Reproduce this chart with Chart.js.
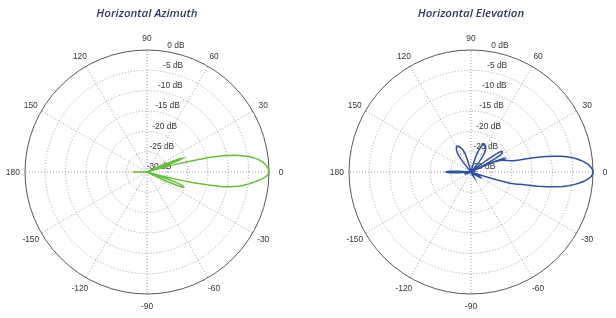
<!DOCTYPE html>
<html>
<head>
<meta charset="utf-8">
<script src="https://cdn.jsdelivr.net/npm/chart.js@4.4.1/dist/chart.umd.min.js"></script>
<style>
  html, body { margin: 0; padding: 0; background: #ffffff; }
  #wrap { position: relative; width: 616px; height: 318px; overflow: hidden; }
  canvas { position: absolute; top: 0; }
</style>
</head>
<body>
<div id="wrap">
  <canvas id="az" width="308" height="318" style="left:0px"></canvas>
  <canvas id="el" width="308" height="318" style="left:308px"></canvas>
</div>
<script>
// ---- titles ----
const titles = ['Horizontal Azimuth', 'Horizontal Elevation'];

// ---- angular tick labels (degrees, counter-clockwise from the right) ----
const angleTicks = [0, 30, 60, 90, 120, 150, 180, -150, -120, -90, -60, -30];

// ---- radial tick labels (dB) ----
const dbTicks = [0, -5, -10, -15, -20, -25, -30];

// ---- pattern values in dB, one per degree, angle 0..359 (counter-clockwise) ----
const azimuthDb = [
  0, -0.1, -0.3, -0.6, -1.0, -1.5, -2.2, -3.0, -4.0, -5.3,          // 0-9
  -6.8, -8.5, -10.8, -14.0, -18.5, -23, -27.5, -30, -28, -24.5,      // 10-19
  -21.8, -20.6, -21.2, -23.5, -27, -30, -30, -30, -30, -30,          // 20-29
  -30, -30, -30, -30, -30, -30, -30, -30, -30, -30,                  // 30-39
  -30, -30, -30, -30, -30, -30, -30, -30, -30, -30,                  // 40-49
  -30, -30, -30, -30, -30, -30, -30, -30, -30, -30,                  // 50-59
  -30, -30, -30, -30, -30, -30, -30, -30, -30, -30,                  // 60-69
  -30, -30, -30, -30, -30, -30, -30, -30, -30, -30,                  // 70-79
  -30, -30, -30, -30, -30, -30, -30, -30, -30, -30,                  // 80-89
  -30, -30, -30, -30, -30, -30, -30, -30, -30, -30,                  // 90-99
  -30, -30, -30, -30, -30, -30, -30, -30, -30, -30,                  // 100-109
  -30, -30, -30, -30, -30, -30, -30, -30, -30, -30,                  // 110-119
  -30, -30, -30, -30, -30, -30, -30, -30, -30, -30,                  // 120-129
  -30, -30, -30, -30, -30, -30, -30, -30, -30, -30,                  // 130-139
  -30, -30, -30, -30, -30, -30, -30, -30, -30, -30,                  // 140-149
  -30, -30, -30, -30, -30, -30, -30, -30, -30, -30,                  // 150-159
  -30, -30, -30, -30, -30, -30, -30, -30, -30, -30,                  // 160-169
  -30, -30, -30, -30, -30, -30, -30, -30, -30, -28.5,                // 170-179
  -26.5, -28.5, -30, -30, -30, -30, -30, -30, -30, -30,              // 180-189
  -30, -30, -30, -30, -30, -30, -30, -30, -30, -30,                  // 190-199
  -30, -30, -30, -30, -30, -30, -30, -30, -30, -30,                  // 200-209
  -30, -30, -30, -30, -30, -30, -30, -30, -30, -30,                  // 210-219
  -30, -30, -30, -30, -30, -30, -30, -30, -30, -30,                  // 220-229
  -30, -30, -30, -30, -30, -30, -30, -30, -30, -30,                  // 230-239
  -30, -30, -30, -30, -30, -30, -30, -30, -30, -30,                  // 240-249
  -30, -30, -30, -30, -30, -30, -30, -30, -30, -30,                  // 250-259
  -30, -30, -30, -30, -30, -30, -30, -30, -30, -30,                  // 260-269
  -30, -30, -30, -30, -30, -30, -30, -30, -30, -30,                  // 270-279
  -30, -30, -30, -30, -30, -30, -30, -30, -30, -30,                  // 280-289
  -30, -30, -30, -30, -30, -30, -30, -30, -30, -30,                  // 290-299
  -30, -30, -30, -30, -30, -30, -30, -30, -30, -30,                  // 300-309
  -30, -30, -30, -30, -30, -30, -30, -30, -30, -30,                  // 310-319
  -30, -30, -30, -30, -30, -30, -30, -30, -30, -30,                  // 320-329
  -30, -30, -30, -30, -28, -24.5, -21.5, -20.3, -20.3, -20.8,        // 330-339
  -22, -24.5, -28, -30, -30, -26.5, -22.5, -18.3, -14.5, -11.0,      // 340-349
  -9.0, -7.5, -6.2, -5.1, -4.2, -3.2, -2.2, -1.3, -0.6, -0.2         // 350-359
];

const elevationDb = [
  0, -0.1, -0.4, -0.8, -1.3, -2.0, -2.8, -3.7, -4.8, -6.1,           // 0-9
  -7.7, -9.6, -12, -14.8, -17.8, -19.2, -19.9, -20.4, -20.9, -21.3,  // 10-19
  -21.6, -21.2, -22.6, -21.9, -23.8, -27, -30, -28, -25, -23,        // 20-29
  -21.8, -21.2, -20.9, -20.8, -20.9, -21.5, -22.8, -25, -28, -30,    // 30-39
  -30, -30, -30, -30, -30, -30, -30, -30, -30, -29,                  // 40-49
  -27.8, -26.8, -26, -25.3, -24.7, -24.2, -23.8, -23.5, -23.2, -23.0,// 50-59
  -22.8, -22.7, -22.6, -22.5, -22.5, -22.5, -22.6, -22.8, -23.1, -23.5,// 60-69
  -24.0, -24.7, -25.5, -26.5, -27.8, -29.2, -30, -30, -30, -30,      // 70-79
  -30, -30, -30, -30, -30, -30, -30, -30, -30, -30,                  // 80-89
  -30, -30, -30, -30, -30, -30, -30, -30, -30, -30,                  // 90-99
  -30, -30, -30, -30, -30, -29, -27.5, -26, -25.2, -24.7,            // 100-109
  -24.3, -24.0, -23.8, -23.5, -23.3, -23.1, -23.0, -22.9, -22.8, -22.8,// 110-119
  -22.9, -23.0, -23.2, -23.4, -23.7, -24.0, -24.5, -25.2, -26.2, -27.5,// 120-129
  -29, -30, -30, -30, -30, -30, -30, -30, -30, -30,                  // 130-139
  -30, -30, -30, -30, -30, -30, -30, -30, -30, -30,                  // 140-149
  -30, -30, -30, -30, -30, -30, -30, -30, -30, -30,                  // 150-159
  -30, -30, -30, -30, -30, -30, -30, -30, -30, -30,                  // 160-169
  -30, -30, -30, -30, -30, -30, -30, -27, -25, -24.3,                // 170-179
  -24, -24.3, -25, -27, -30, -30, -30, -30, -30, -30,                // 180-189
  -30, -30, -30, -30, -30, -29.5, -29, -28.7, -28.5, -28.5,          // 190-199
  -28.7, -29, -29.5, -30, -30, -30, -30, -30, -30, -30,              // 200-209
  -30, -30, -30, -30, -30, -30, -30, -30, -30, -30,                  // 210-219
  -30, -30, -30, -30, -30, -30, -30, -30, -30, -30,                  // 220-229
  -30, -30, -30, -30, -30, -30, -30, -30, -30, -30,                  // 230-239
  -30, -30, -30, -30, -30, -30, -30, -30, -30, -30,                  // 240-249
  -30, -30, -30, -30, -30, -30, -30, -30, -30, -30,                  // 250-259
  -30, -30, -30, -30, -30, -30, -30, -30, -30, -30,                  // 260-269
  -30, -30, -30, -30, -30, -30, -30, -30, -30, -30,                  // 270-279
  -30, -30, -30, -30, -30, -30, -30, -30, -30, -30,                  // 280-289
  -30, -30, -30, -30, -30, -30, -30, -29.5, -29, -28.7,              // 290-299
  -28.5, -28.7, -29, -29.5, -30, -30, -30, -30, -30, -30,            // 300-309
  -30, -30, -30, -30, -30, -30, -30, -30, -30, -30,                  // 310-319
  -30, -30, -30, -30, -30, -30, -29, -28.2, -27.6, -27.3,            // 320-329
  -27.2, -27.3, -27.7, -28.5, -29.5, -30, -30, -30, -30, -30,        // 330-339
  -30, -30, -27, -23.5, -20, -18.3, -17.5, -15.5, -13.2, -11.0,      // 340-349
  -9.0, -7.3, -5.8, -4.5, -3.4, -2.4, -1.6, -0.9, -0.4, -0.1         // 350-359
];

const seriesList = [azimuthDb, elevationDb];
const colors = ['#66be3e', '#2f4f9f'];

// radar index i runs clockwise from the top: angle = 90 - i
const radarAngles = [];
for (let i = 0; i < 360; i++) radarAngles.push(90 - i);
const toDeg = a => ((a % 360) + 360) % 360;

const labelFont = '8.4px "Liberation Sans", Arial, sans-serif';
const textColor = '#333333';

const labelPlugin = {
  id: 'polarLabels',
  beforeDatasetsDraw(chart) {
    const s = chart.scales.r;
    const ctx = chart.ctx;
    ctx.save();
    ctx.font = labelFont;
    ctx.fillStyle = textColor;
    ctx.textAlign = 'center';
    ctx.textBaseline = 'middle';
    angleTicks.forEach(a => {
      const idx = toDeg(90 - a);
      const p = s.getPointPosition(idx, s.drawingArea * 1.1);
      ctx.fillText(String(a), p.x, p.y + 0.5);
    });
    const c82 = Math.cos(82 * Math.PI / 180), s82 = Math.sin(82 * Math.PI / 180);
    dbTicks.forEach(v => {
      const r = s.getDistanceFromCenterForValue(v);
      ctx.fillText(v + ' dB', s.xCenter + r * c82 + 12, s.yCenter - r * s82 - 5.5);
    });
    ctx.restore();
  }
};

function makeChart(id, k, padLeft) {
  const series = seriesList[k];
  const data = radarAngles.map(a => series[toDeg(a)]);
  return new Chart(document.getElementById(id), {
    type: 'radar',
    data: {
      labels: radarAngles.map(String),
      datasets: [{
        data: data,
        borderColor: colors[k],
        borderWidth: 1.5,
        fill: false,
        pointRadius: 0,
        pointHoverRadius: 0,
        tension: 0
      }]
    },
    options: {
      responsive: false,
      animation: false,
      devicePixelRatio: 1,
      events: [],
      layout: { padding: { left: padLeft, right: 308 - padLeft - 244, top: 0, bottom: 24 } },
      plugins: {
        legend: { display: false },
        tooltip: { enabled: false },
        title: {
          display: true,
          text: titles[k],
          color: '#2f3b5e',
          font: { family: '"Open Sans", sans-serif', size: 11.5, style: 'italic', weight: '600' },
          padding: { top: 7, bottom: 29.2 }
        }
      },
      scales: {
        r: {
          min: -30,
          max: 0,
          startAngle: 0,
          ticks: { display: false, stepSize: 5 },
          pointLabels: { display: false },
          grid: {
            circular: true,
            lineWidth: 1,
            color: c => (c.tick && c.tick.value === 0) ? '#555555' : '#9a9a9a'
          },
          border: {
            dash: c => (c.tick && c.tick.value === 0) ? [] : [1, 2]
          },
          angleLines: {
            display: true,
            color: '#9a9a9a',
            lineWidth: c => (c.index % 30 === 0) ? 1 : 0,
            borderDash: [1, 2]
          }
        }
      }
    },
    plugins: [labelPlugin]
  });
}

makeChart('az', 0, 25);
makeChart('el', 1, 41);
</script>
</body>
</html>
